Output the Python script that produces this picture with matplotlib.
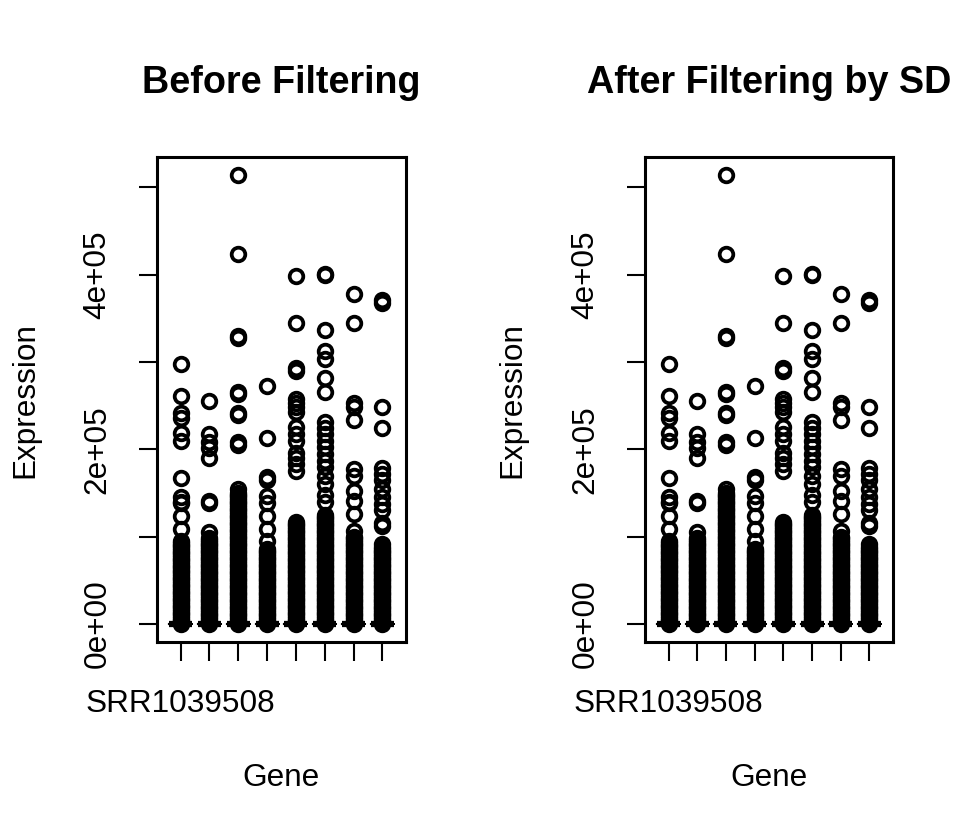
import numpy as np
import matplotlib
matplotlib.use("Agg")
import matplotlib.pyplot as plt

plt.rcParams["font.family"] = ["Liberation Sans", "DejaVu Sans"]

# sample columns of the count matrix (airway data)
samples = ["SRR1039508", "SRR1039509", "SRR1039512", "SRR1039513",
           "SRR1039516", "SRR1039517", "SRR1039520", "SRR1039521"]

# expression values, in thousands
# sparse high values per sample
high_1 = [298, 261, 241, 236, 219, 210, 167, 145, 140, 138, 124, 109]
high_2 = [255, 218, 208, 202, 190, 141, 139, 105]
high_3 = [514, 423, 330, 327, 266, 263, 242, 239, 208, 205, 155]
high_4 = [273, 213, 168, 165, 147, 139, 124, 109, 95]
high_5 = [398, 344, 293, 290, 258, 253, 248, 243, 225, 218, 210, 196, 190, 183, 175]
high_6 = [401, 399, 336, 313, 303, 282, 266, 231, 224, 218, 210, 203, 195,
          187, 180, 170, 160, 148, 140]
high_7 = [378, 345, 253, 248, 233, 178, 170, 152, 141, 126, 107]
high_8 = [371, 368, 248, 224, 179, 172, 165, 155, 145, 137, 130, 116, 112, 92]

# the packed low-expression genes (solid black part of each column)
low_1 = [95, 93, 91, 89, 87, 85, 83, 81, 79, 77, 75, 73, 71, 69, 67, 65, 63,
         61, 59, 57, 55, 53, 51, 49, 47, 45, 43, 41, 39, 37, 35, 33, 31, 29,
         27, 25, 23, 21, 19, 17, 15, 13, 11, 9, 7, 5, 3, 1, 0]
low_2 = [98, 96, 94, 92, 90, 88, 86, 84, 82, 80, 78, 76, 74, 72, 70, 68, 66,
         64, 62, 60, 58, 56, 54, 52, 50, 48, 46, 44, 42, 40, 38, 36, 34, 32,
         30, 28, 26, 24, 22, 20, 18, 16, 14, 12, 10, 8, 6, 4, 2, 0]
low_3 = [150, 148, 146, 144, 142, 140, 138, 136, 134, 132, 130, 128, 126,
         124, 122, 120, 118, 116, 114, 112, 110, 108, 106, 104, 102, 100, 98,
         96, 94, 92, 90, 88, 86, 84, 82, 80, 78, 76, 74, 72, 70, 68, 66, 64,
         62, 60, 58, 56, 54, 52, 50, 48, 46, 44, 42, 40, 38, 36, 34, 32, 30,
         28, 26, 24, 22, 20, 18, 16, 14, 12, 10, 8, 6, 4, 2, 0]
low_4 = [86, 84, 82, 80, 78, 76, 74, 72, 70, 68, 66, 64, 62, 60, 58, 56, 54,
         52, 50, 48, 46, 44, 42, 40, 38, 36, 34, 32, 30, 28, 26, 24, 22, 20,
         18, 16, 14, 12, 10, 8, 6, 4, 2, 0]
low_5 = [117, 115, 113, 111, 109, 107, 105, 103, 101, 99, 97, 95, 93, 91, 89,
         87, 85, 83, 81, 79, 77, 75, 73, 71, 69, 67, 65, 63, 61, 59, 57, 55,
         53, 51, 49, 47, 45, 43, 41, 39, 37, 35, 33, 31, 29, 27, 25, 23, 21,
         19, 17, 15, 13, 11, 9, 7, 5, 3, 1, 0]
low_6 = [125, 123, 121, 119, 117, 115, 113, 111, 109, 107, 105, 103, 101, 99,
         97, 95, 93, 91, 89, 87, 85, 83, 81, 79, 77, 75, 73, 71, 69, 67, 65,
         63, 61, 59, 57, 55, 53, 51, 49, 47, 45, 43, 41, 39, 37, 35, 33, 31,
         29, 27, 25, 23, 21, 19, 17, 15, 13, 11, 9, 7, 5, 3, 1, 0]
low_7 = [100, 98, 96, 94, 92, 90, 88, 86, 84, 82, 80, 78, 76, 74, 72, 70, 68,
         66, 64, 62, 60, 58, 56, 54, 52, 50, 48, 46, 44, 42, 40, 38, 36, 34,
         32, 30, 28, 26, 24, 22, 20, 18, 16, 14, 12, 10, 8, 6, 4, 2, 0]
low_8 = [88, 86, 84, 82, 80, 78, 76, 74, 72, 70, 68, 66, 64, 62, 60, 58, 56,
         54, 52, 50, 48, 46, 44, 42, 40, 38, 36, 34, 32, 30, 28, 26, 24, 22,
         20, 18, 16, 14, 12, 10, 8, 6, 4, 2, 0]

before = [high_1 + low_1, high_2 + low_2, high_3 + low_3, high_4 + low_4,
          high_5 + low_5, high_6 + low_6, high_7 + low_7, high_8 + low_8]
# the SD filter only drops flat genes, the visible points stay the same
after = [list(v) for v in before]

yticks = [0, 100000, 200000, 300000, 400000, 500000]
ytick_labels = ["0e+00", "", "2e+05", "", "4e+05", ""]

W, H = 974, 838
fig = plt.figure(figsize=(W / 100, H / 100), dpi=100)

panels = [("Before Filtering", before, 157, 406, 25),
          ("After Filtering by SD", after, 645, 893, 512)]

fs = 22.7
for title, data, x0, x1, ylab_x in panels:
    ax = fig.add_axes([x0 / W, 1 - 642 / H, (x1 - x0) / W, (642 - 157) / H])
    pos = np.arange(1, len(samples) + 1)

    # boxes collapse to zero because most counts are tiny
    stats = []
    for vals in data:
        v = np.array(vals) * 1000
        stats.append(dict(med=0, q1=0, q3=0, whislo=0, whishi=0, fliers=v))
    ax.bxp(stats, positions=pos, widths=0.8, showfliers=True,
           boxprops=dict(color="black", lw=1.5),
           medianprops=dict(color="black", lw=4.5),
           whiskerprops=dict(color="black", lw=1.5),
           capprops=dict(color="black", lw=1.5),
           flierprops=dict(marker="o", markerfacecolor="none",
                           markeredgecolor="black", markersize=9.8,
                           markeredgewidth=2.7, linestyle="none"))

    allv = np.concatenate([np.array(v) * 1000 for v in data])
    lo, hi = allv.min(), allv.max()
    pad = (hi - lo) * 0.04
    ax.set_ylim(lo - pad, hi + pad)
    ax.set_xlim(0.5 - 0.32, len(samples) + 0.5 + 0.32)

    ax.set_yticks(yticks)
    ax.set_yticklabels(ytick_labels, rotation=90, va="center", fontsize=fs)
    ax.set_xticks(pos)
    ax.set_xticklabels([samples[0]] + [""] * (len(samples) - 1), fontsize=fs)
    ax.tick_params(axis="y", direction="out", length=13, width=1.5, pad=19)
    ax.tick_params(axis="x", direction="out", length=14, width=1.5, pad=20)
    for s in ax.spines.values():
        s.set_linewidth(2.2)

    cx = (x0 + x1) / 2 / W
    fig.text(cx, 1 - 93 / H, title, ha="center", va="baseline",
             fontsize=27.2, fontweight="bold")
    fig.text(cx, 1 - 778 / H, "Gene", ha="center", va="center", fontsize=fs)
    fig.text(ylab_x / W, 1 - 400 / H, "Expression", ha="center", va="center",
             rotation=90, fontsize=fs)

fig.savefig("out.png", dpi=100)
